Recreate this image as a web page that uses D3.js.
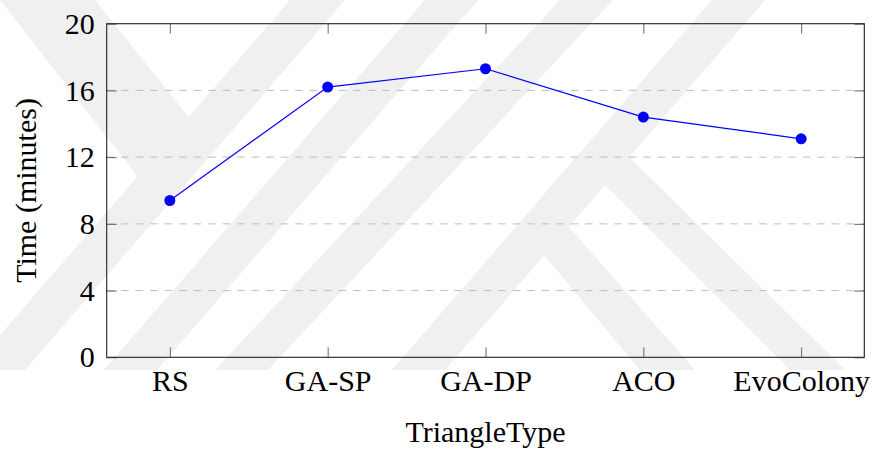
<!DOCTYPE html>
<html>
<head>
<meta charset="utf-8">
<script src="https://cdn.jsdelivr.net/npm/d3@7"></script>
<style>
  body { margin: 0; background: #fff; }
</style>
</head>
<body>
<svg width="878" height="452"></svg>
<script>
var categories = ["RS", "GA-SP", "GA-DP", "ACO", "EvoColony"];
var times = [9.4, 16.2, 17.3, 14.4, 13.1];
var yTicks = [0, 4, 8, 12, 16, 20];

var FONT = "'Liberation Serif', Tinos, 'Times New Roman', Times, serif";

var svg = d3.select("svg"),
    width = +svg.attr("width"),
    height = +svg.attr("height"),
    margin = {left: 106.7, right: 878 - 864.3, top: 23.7, bottom: 452 - 357.3},
    x0 = margin.left, x1 = width - margin.right,
    y0 = height - margin.bottom, y1 = margin.top;

// faint background watermark (diagonal bands)
var wm = svg.append("g").attr("fill", "#f0f0f0");
var bands = [
  [[0, 0], [95, 0], [215, 150], [160, 205]],
  [[290, 0], [345, 0], [25, 370], [-30, 370]],
  [[425, 0], [478, 0], [157, 370], [104, 370]],
  [[560, 0], [613, 0], [268, 370], [215, 370]],
  [[712, 0], [765, 0], [445, 370], [392, 370]],
  [[520, 226], [545, 200], [695, 370], [640, 370]],
  [[585, 165], [612, 140], [845, 370], [790, 370]]
];
wm.selectAll("polygon")
  .data(bands)
  .enter().append("polygon")
  .attr("points", d => d.map(p => p.join(",")).join(" "));

var x = d3.scalePoint().domain(categories).range([x0, x1]).padding(0.4);
var y = d3.scaleLinear().domain([0, 20]).range([y0, y1]);

// dashed horizontal grid
svg.append("g")
  .selectAll("line")
  .data(yTicks.filter(t => t > 0 && t < 20))
  .enter().append("line")
  .attr("x1", x0).attr("x2", x1)
  .attr("y1", d => y(d)).attr("y2", d => y(d))
  .attr("stroke", "#bdbdbd")
  .attr("stroke-width", 1)
  .attr("stroke-dasharray", "7.5,7");

function styleAxis(g) {
  g.attr("font-family", FONT).attr("font-size", 30);
  g.select(".domain").remove();
  g.selectAll(".tick line").attr("stroke", "#666").attr("stroke-width", 1);
  g.selectAll(".tick text").attr("fill", "#000");
}

svg.append("g")
  .attr("transform", "translate(0," + y0 + ")")
  .call(d3.axisBottom(x).tickSize(-10).tickPadding(12))
  .call(styleAxis);
svg.append("g")
  .attr("transform", "translate(0," + y1 + ")")
  .call(d3.axisTop(x).tickSize(-10).tickFormat(""))
  .call(styleAxis);
svg.append("g")
  .attr("transform", "translate(" + x0 + ",0)")
  .call(d3.axisLeft(y).tickValues(yTicks).tickSize(-10).tickPadding(12))
  .call(styleAxis);
svg.append("g")
  .attr("transform", "translate(" + x1 + ",0)")
  .call(d3.axisRight(y).tickValues(yTicks).tickSize(-10).tickFormat(""))
  .call(styleAxis);

// frame
svg.append("rect")
  .attr("x", x0).attr("y", y1)
  .attr("width", x1 - x0).attr("height", y0 - y1)
  .attr("fill", "none")
  .attr("stroke", "#222")
  .attr("stroke-width", 1.1);

var pts = categories.map((c, i) => [x(c), y(times[i])]);

svg.append("path")
  .attr("d", d3.line()(pts))
  .attr("fill", "none")
  .attr("stroke", "#0000ff")
  .attr("stroke-width", 1.2);

svg.append("g")
  .selectAll("circle")
  .data(pts)
  .enter().append("circle")
  .attr("cx", d => d[0]).attr("cy", d => d[1])
  .attr("r", 5.5)
  .attr("fill", "#0000ff");

svg.append("text")
  .attr("x", (x0 + x1) / 2).attr("y", 442)
  .attr("text-anchor", "middle")
  .attr("font-family", FONT).attr("font-size", 30)
  .text("TriangleType");

svg.append("text")
  .attr("transform", "translate(36," + (y0 + y1) / 2 + ") rotate(-90)")
  .attr("text-anchor", "middle")
  .attr("font-family", FONT).attr("font-size", 30)
  .text("Time (minutes)");
</script>
</body>
</html>
